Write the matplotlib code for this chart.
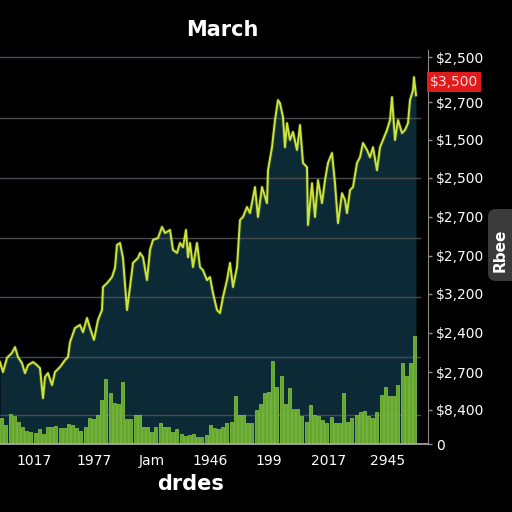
import numpy as np
import matplotlib
matplotlib.use('Agg')
import matplotlib.pyplot as plt
from matplotlib.patches import FancyBboxPatch

plt.rcParams.update({
    'font.family': 'DejaVu Sans',
    'font.size': 10,
})

# price trace (day, level)
price_day = [0, 3, 7, 12, 15, 18, 22, 25, 28, 33, 37, 40, 43, 45, 48, 52, 55, 60,
             65, 68, 70, 75, 80, 83, 87, 90, 94, 98, 102, 103, 107, 112, 115, 117,
             120, 123, 127, 130, 133, 138, 140, 143, 147, 150, 153, 158, 162, 165,
             170, 173, 177, 180, 183, 186, 188, 190, 193, 197, 200, 203, 207, 210,
             213, 217, 220, 223, 227, 230, 233, 237, 240, 243, 247, 250, 255, 258,
             262, 267, 268, 272, 275, 278, 280, 283, 285, 287, 290, 293, 297, 300,
             303, 307, 308, 312, 315, 318, 322, 325, 328, 332, 335, 338, 342, 345,
             347, 350, 353, 357, 360, 363, 367, 370, 373, 377, 380, 383, 387, 390,
             392, 395, 398, 402, 405, 408, 410, 413, 414, 416]
price = [2.14, 1.88, 2.25, 2.38, 2.53, 2.27, 2.11, 1.85, 2.06, 2.14, 2.06, 1.98,
         1.20, 1.75, 1.85, 1.54, 1.88, 2.01, 2.19, 2.27, 2.66, 3.03, 3.11, 2.92,
         3.29, 3.03, 2.72, 3.24, 3.50, 4.10, 4.20, 4.36, 4.60, 5.20, 5.25, 4.86,
         3.50, 4.10, 4.73, 4.86, 4.99, 4.88, 4.28, 5.07, 5.33, 5.38, 5.67, 5.51,
         5.59, 5.07, 4.99, 5.25, 5.14, 5.59, 4.88, 5.25, 4.62, 5.25, 4.62, 4.54,
         4.28, 4.36, 3.94, 3.50, 3.42, 3.84, 4.28, 4.73, 4.10, 4.62, 5.85, 5.93,
         6.19, 6.03, 6.71, 5.93, 6.71, 6.29, 7.15, 7.75, 8.46, 8.98, 8.90, 8.54,
         7.75, 8.38, 7.94, 8.15, 7.68, 8.33, 7.34, 7.23, 5.72, 6.81, 5.93, 6.89,
         6.29, 6.89, 7.34, 7.60, 6.81, 5.77, 6.55, 6.37, 6.03, 6.63, 6.71, 7.34,
         7.49, 7.86, 7.68, 7.49, 7.75, 7.15, 7.75, 7.94, 8.20, 8.46, 9.06, 7.94,
         8.46, 8.12, 8.20, 8.38, 8.98, 9.24, 9.58, 9.11]

# volume bars
volume = [0.68, 0.50, 0.78, 0.73, 0.57, 0.44, 0.34, 0.31, 0.29, 0.39,
          0.26, 0.44, 0.44, 0.47, 0.42, 0.42, 0.52, 0.50, 0.42, 0.34,
          0.44, 0.68, 0.65, 0.76, 1.15, 1.70, 1.33, 1.07, 1.04, 1.62,
          0.65, 0.65, 0.76, 0.76, 0.44, 0.44, 0.31, 0.44, 0.55, 0.44,
          0.44, 0.31, 0.39, 0.26, 0.21, 0.23, 0.26, 0.18, 0.18, 0.23,
          0.50, 0.42, 0.39, 0.44, 0.55, 0.57, 1.25, 0.76, 0.76, 0.55,
          0.55, 0.89, 1.04, 1.33, 1.36, 2.17, 1.49, 1.78, 1.04, 1.46,
          0.91, 0.91, 0.73, 0.57, 1.02, 0.76, 0.73, 0.63, 0.55, 0.70,
          0.55, 0.55, 1.33, 0.57, 0.68, 0.76, 0.84, 0.86, 0.73, 0.68,
          0.84, 1.28, 1.49, 1.25, 1.25, 1.54, 2.11, 1.78, 2.11, 2.82]

grid_levels = [0.76, 2.27, 3.84, 5.38, 6.95, 8.51, 10.1]

ytick_pos = [0, 0.89, 1.88, 2.9, 3.92, 4.91, 5.93, 6.95, 7.94, 8.93, 10.1]
ytick_lab = ['0', '$8,400', '$2,700', '$2,400', '$3,200', '$2,700',
             '$2,700', '$2,500', '$1,500', '$2,700', '$2,500']

xtick_pos = [34, 94, 152, 210, 269, 329, 388]
xtick_lab = ['1017', '1977', 'Jam', '1946', '199', '2017', '2945']

last_level = 9.45
last_label = '$3,500'

BG = '#000000'
FILL = '#0c2a36'
LINE = '#cbe43e'
BAR = '#62a82c'
BAR_EDGE = '#92cc46'

fig = plt.figure(figsize=(5.12, 5.12), dpi=100, facecolor=BG)
ax = fig.add_axes([0, 68 / 512, 428 / 512, 394 / 512])
ax.set_facecolor(BG)

ax.fill_between(price_day, 0, price, color=FILL, lw=0, zorder=1)
for g in grid_levels:
    ax.axhline(g, xmax=0.982, color='#474c50', lw=1.0, zorder=1.5)

bar_day = np.arange(len(volume)) * 4.17 + 1.7
ax.bar(bar_day, volume, width=3.0, color=BAR, edgecolor=BAR_EDGE,
       linewidth=0.5, zorder=2)

ax.plot(price_day, price, color=LINE, lw=2.6, alpha=0.2, zorder=3)
ax.plot(price_day, price, color=LINE, lw=1.4, zorder=3.1)

ax.set_xlim(0, 428)
ax.set_ylim(0, 10.29)

for s in ['top', 'left']:
    ax.spines[s].set_visible(False)
ax.spines['right'].set_color('#8a8a8a')
ax.spines['bottom'].set_color('#b0b0b0')
ax.spines['bottom'].set_linewidth(1.2)

ax.yaxis.tick_right()
ax.set_yticks(ytick_pos)
ax.set_yticklabels(ytick_lab)
ax.tick_params(axis='y', colors='#8a8a8a', labelcolor='white',
               length=3, width=1, labelsize=10, pad=3)

ax.set_xticks(xtick_pos)
ax.set_xticklabels(xtick_lab)
ax.tick_params(axis='x', length=0, labelcolor='white', labelsize=10, pad=7)

ax.set_xlabel('drdes', color='white', fontsize=15, fontweight='bold',
              labelpad=6)
ax.xaxis.set_label_coords(191 / 428, -30 / 394)

fig.text(222 / 512, 1 - 30 / 512, 'March', color='white', fontsize=15,
         fontweight='bold', ha='center', va='center')

# last price flag
ax.text(1.005, last_level, last_label, transform=ax.get_yaxis_transform(),
        ha='left', va='center', color='#ffd6d6', fontsize=10,
        bbox=dict(boxstyle='square,pad=0.2', fc='#e01b1b', ec='none'))

# side tab
tab = FancyBboxPatch((488 / 512, 1 - 281 / 512), 40 / 512, 72 / 512,
                     boxstyle='round,pad=0,rounding_size=0.015',
                     transform=fig.transFigure, fc='#3a3a3a', ec='none')
fig.patches.append(tab)
fig.text(500 / 512, 1 - 250 / 512, 'Rbee', rotation=90, color='white',
         fontsize=11, fontweight='bold', ha='center', va='center')

fig.savefig('out.png', dpi=100, facecolor=BG)
